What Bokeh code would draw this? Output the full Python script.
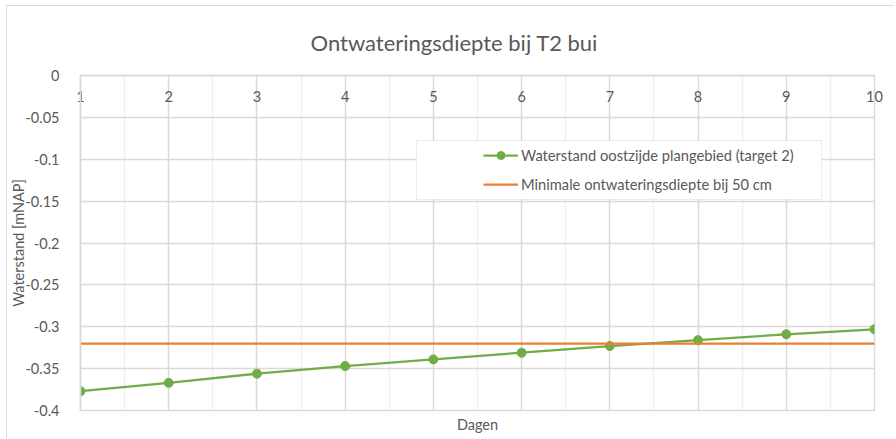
from bokeh.plotting import figure
from bokeh.models import (FixedTicker, LinearAxis, Range1d, Legend, LegendItem,
                          BoxAnnotation, ColumnDataSource)
from bokeh.embed import file_html
from bokeh.resources import INLINE

# ---- data ----
dagen = [1, 2, 3, 4, 5, 6, 7, 8, 9, 10]
waterstand = [-0.377, -0.367, -0.356, -0.347, -0.339, -0.331, -0.323, -0.316, -0.309, -0.303]
minimale_diepte = [-0.32, -0.32, -0.32, -0.32, -0.32, -0.32, -0.32, -0.32, -0.32, -0.32]
x_ticks = [1, 2, 3, 4, 5, 6, 7, 8, 9, 10]
x_minor = [1.5, 2.5, 3.5, 4.5, 5.5, 6.5, 7.5, 8.5, 9.5]
y_ticks = [0, -0.05, -0.1, -0.15, -0.2, -0.25, -0.3, -0.35, -0.4]
y_labels = ["0", "-0.05", "-0.1", "-0.15", "-0.2", "-0.25", "-0.3", "-0.35", "-0.4"]

FONT = "Lato"
TXT = "#595959"
GRID = "#d9d9d9"
FS = "14.5px"

p = figure(width=888, height=433, output_backend="svg", toolbar_location=None,
           x_range=Range1d(1, 10), y_range=Range1d(-0.4, 0),
           x_axis_location=None, y_axis_location=None,
           min_border_left=73, min_border_top=69, min_border_right=21, min_border_bottom=29)
p.styles = {"margin-left": "6px", "margin-top": "5px",
            "border-top": "1px solid #d9d9d9", "border-left": "1px solid #d9d9d9"}

p.title.text = "Ontwateringsdiepte bij T2 bui"
p.title.align = "left"
p.title.offset = 230
p.title.text_font = FONT
p.title.text_font_size = "22px"
p.title.text_font_style = "normal"
p.title.text_color = TXT
p.title.standoff = 40

p.outline_line_color = GRID
p.outline_line_width = 1.5

# y axis
yax = LinearAxis(ticker=FixedTicker(ticks=y_ticks),
                 major_label_overrides={t: l for t, l in zip(y_ticks, y_labels)},
                 axis_label="Waterstand [mNAP]")
# x axis (top, labels drawn inside the plot)
xax = LinearAxis(ticker=FixedTicker(ticks=x_ticks, minor_ticks=x_minor),
                 major_label_standoff=-32)
# bottom axis title only
bax = LinearAxis(ticker=FixedTicker(ticks=[]), axis_label="Dagen",
                 axis_line_color=None, axis_label_standoff=5)

for ax in (yax, xax, bax):
    ax.major_tick_line_color = None
    ax.minor_tick_line_color = None
    ax.major_label_text_font = FONT
    ax.major_label_text_font_size = FS
    ax.major_label_text_color = TXT
    ax.axis_label_text_font = FONT
    ax.axis_label_text_font_size = FS
    ax.axis_label_text_font_style = "normal"
    ax.axis_label_text_color = TXT
yax.axis_line_color = GRID
yax.axis_line_width = 1.5
yax.major_label_standoff = 15
yax.axis_label_standoff = -5
xax.axis_line_color = GRID
xax.axis_line_width = 1.5

p.add_layout(yax, "left")
p.add_layout(xax, "above")
p.add_layout(bax, "below")

p.xgrid.ticker = FixedTicker(ticks=x_ticks, minor_ticks=x_minor)
p.ygrid.ticker = FixedTicker(ticks=y_ticks)
p.xgrid.grid_line_color = GRID
p.xgrid.grid_line_width = 1.5
p.xgrid.minor_grid_line_color = "#efefef"
p.xgrid.minor_grid_line_width = 1.5
p.ygrid.grid_line_color = GRID
p.ygrid.grid_line_width = 1.5

src = ColumnDataSource(dict(x=dagen, w=waterstand, m=minimale_diepte))
r_line = p.line("x", "w", source=src, line_color="#70AD47", line_width=2.25)
r_dot = p.scatter("x", "w", source=src, size=9, fill_color="#70AD47", line_color="#70AD47")
r_min = p.line("x", "m", source=src, line_color="#ED7D31", line_width=2.25)

# legend frame (screen units, relative to the plot frame, y up)
box = BoxAnnotation(left=336, right=741, bottom=211, top=270,
                    left_units="screen", right_units="screen",
                    top_units="screen", bottom_units="screen",
                    fill_color="white", fill_alpha=1.0,
                    line_color="#bfbfbf", line_width=1)
p.add_layout(box)

legend = Legend(items=[LegendItem(label="Waterstand oostzijde plangebied (target 2)", renderers=[r_line, r_dot]),
                       LegendItem(label="Minimale ontwateringsdiepte bij 50 cm", renderers=[r_min])],
                location=(403, 216), padding=0, spacing=9,
                glyph_width=35, glyph_height=20, label_height=20, label_standoff=3,
                label_text_font=FONT, label_text_font_size="14.7px", label_text_color=TXT,
                border_line_color=None, background_fill_alpha=0)
p.add_layout(legend)

open("out.html", "w").write(file_html(p, INLINE))
